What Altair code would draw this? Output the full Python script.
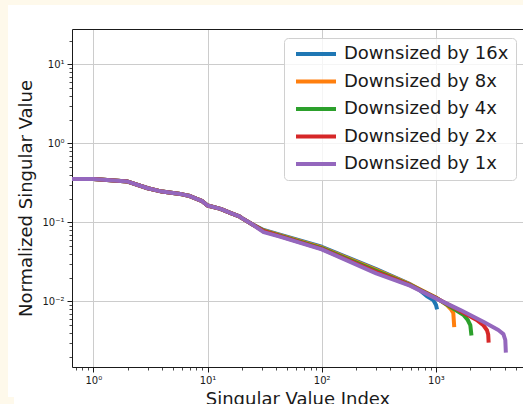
import altair as alt
import pandas as pd

# ---------------- data ----------------
series_names = ["Downsized by 16x", "Downsized by 8x", "Downsized by 4x",
                "Downsized by 2x", "Downsized by 1x"]
series_colors = ["#1f77b4", "#ff7f0e", "#2ca02c", "#d62728", "#9467bd"]

idx_16x = [0.5, 1, 2, 3, 4, 6, 7, 9, 10, 13, 16, 19, 20, 25, 31, 43, 100, 300, 593, 700, 830, 948, 1002, 1023]
val_16x = [0.353, 0.353, 0.328, 0.27, 0.245, 0.226, 0.215, 0.185, 0.163, 0.148, 0.131, 0.119, 0.113, 0.093,
           0.080, 0.070, 0.049, 0.0255, 0.0165, 0.0143, 0.0117, 0.0104, 0.0090, 0.0079]

idx_8x = [0.5, 1, 2, 3, 4, 6, 7, 9, 10, 13, 16, 19, 20, 25, 31, 43, 100, 300, 593, 1000, 1243, 1350, 1420, 1447]
val_8x = [0.353, 0.353, 0.328, 0.27, 0.245, 0.226, 0.215, 0.185, 0.163, 0.148, 0.131, 0.119, 0.113, 0.093,
          0.079, 0.069, 0.048, 0.0250, 0.0164, 0.0112, 0.0090, 0.0080, 0.0071, 0.0047]

idx_4x = [0.5, 1, 2, 3, 4, 6, 7, 9, 10, 13, 16, 19, 20, 25, 31, 43, 100, 300, 593, 1000, 1738, 1900, 2000, 2047]
val_4x = [0.353, 0.353, 0.328, 0.27, 0.245, 0.226, 0.215, 0.185, 0.163, 0.148, 0.131, 0.119, 0.113, 0.093,
          0.078, 0.068, 0.047, 0.0243, 0.0162, 0.0111, 0.00675, 0.0058, 0.0050, 0.0037]

idx_2x = [0.5, 1, 2, 3, 4, 6, 7, 9, 10, 13, 16, 19, 20, 25, 31, 43, 100, 300, 593, 1000, 1622, 2276, 2600, 2800, 2870, 2895]
val_2x = [0.353, 0.353, 0.328, 0.27, 0.245, 0.226, 0.215, 0.185, 0.163, 0.148, 0.131, 0.119, 0.113, 0.093,
          0.077, 0.067, 0.046, 0.0234, 0.0160, 0.0110, 0.0076, 0.0058, 0.0050, 0.0043, 0.0038, 0.0030]

idx_1x = [0.5, 1, 2, 3, 4, 6, 7, 9, 10, 13, 16, 19, 20, 25, 31, 43, 100, 300, 593, 1000, 1622, 2600, 3518, 3900, 4050, 4095]
val_1x = [0.353, 0.353, 0.328, 0.27, 0.245, 0.226, 0.215, 0.185, 0.163, 0.148, 0.131, 0.119, 0.113, 0.093,
          0.075, 0.066, 0.0455, 0.0226, 0.0158, 0.0109, 0.0078, 0.0055, 0.00433, 0.00385, 0.00324, 0.00224]

x_major = [1, 10, 100, 1000]
x_major_labels = ["10⁰", "10¹", "10²", "10³"]
y_major = [0.01, 0.1, 1, 10]
y_major_labels = ["10⁻²", "10⁻¹", "10⁰", "10¹"]

# ---------------- table ----------------
rows = []
for name, xs_, ys_ in zip(series_names,
                          [idx_16x, idx_8x, idx_4x, idx_2x, idx_1x],
                          [val_16x, val_8x, val_4x, val_2x, val_1x]):
    for a, b in zip(xs_, ys_):
        rows.append({"idx": a, "val": b, "series": name})
df = pd.DataFrame(rows)

X_DOMAIN = [0.651, 5787]
Y_DOMAIN = [0.001474, 28.0]
W, H = 451, 338
FONT = "DejaVu Sans"
INK = "#1a1a1a"
CREAM = "#fef9eb"

xs = alt.Scale(type="log", domain=X_DOMAIN, nice=False, zero=False)
ys = alt.Scale(type="log", domain=Y_DOMAIN, nice=False, zero=False)


def label_expr(values, labels):
    expr = "''"
    for v, l in zip(reversed(values), reversed(labels)):
        expr = f"abs(datum.value - {v}) < {v}*1e-6 ? '{l}' : ({expr})"
    return expr


x_minor = [m * 10 ** k for k in range(-1, 4) for m in range(2, 10)
           if X_DOMAIN[0] <= m * 10 ** k <= X_DOMAIN[1]]
y_minor = [m * 10.0 ** k for k in range(-3, 2) for m in range(2, 10)
           if Y_DOMAIN[0] <= m * 10.0 ** k <= Y_DOMAIN[1]]

axis_common = dict(labelFont=FONT, labelColor=INK, titleFont=FONT, titleColor=INK,
                   titleFontWeight="normal", titleFontSize=18, labelFontSize=10,
                   domainColor=INK, tickColor=INK, tickWidth=1, domainWidth=1,
                   gridColor="#cccccc", gridWidth=1)

x_axis_major = alt.Axis(orient="bottom", values=x_major, labelExpr=label_expr(x_major, x_major_labels),
                        title="Singular Value Index", grid=True, tickSize=5, labelPadding=3,
                        titlePadding=5, labelFlush=False, labelOverlap=False, **axis_common)
y_axis_major = alt.Axis(orient="left", values=y_major, labelExpr=label_expr(y_major, y_major_labels),
                        title="Normalized Singular Value", grid=True, tickSize=5, labelPadding=3,
                        titlePadding=6, labelFlush=False, labelOverlap=False, **axis_common)

x_axis_minor = alt.Axis(orient="bottom", values=x_minor, labels=False, title=None, grid=False,
                        domain=False, tickSize=3, tickColor=INK, tickWidth=0.8)
y_axis_minor = alt.Axis(orient="left", values=y_minor, labels=False, title=None, grid=False,
                        domain=False, tickSize=3, tickColor=INK, tickWidth=0.8)
x_axis_top = alt.Axis(orient="top", values=[1], labels=False, ticks=False, title=None, grid=False,
                      domain=True, domainColor=INK, domainWidth=1)

# wide, thin legend handle drawn from a small symbol so rows stay compact
legend = alt.Legend(orient="none", legendX=212, legendY=9, title=None, direction="vertical",
                    symbolType="M-1,0L9,0", symbolSize=64, symbolStrokeWidth=4,
                    symbolFillColor="transparent",
                    labelFont=FONT, labelFontSize=18, labelColor=INK, labelOffset=35,
                    rowPadding=9.5, padding=7, strokeColor="#d0d0d0",
                    fillColor="rgba(255,255,255,0.8)", cornerRadius=4, labelLimit=400)

one = alt.Data(values=[{"a": 1}])
cream_left = alt.Chart(one).mark_rect(color=CREAM).encode(
    x=alt.value(-72), x2=alt.value(-64), y=alt.value(-29), y2=alt.value(H + 37))
cream_top = alt.Chart(one).mark_rect(color=CREAM).encode(
    x=alt.value(-72), x2=alt.value(W), y=alt.value(-29), y2=alt.value(-24))
cream_corner = alt.Chart(one).mark_rect(color=CREAM).encode(
    x=alt.value(-72), x2=alt.value(-58), y=alt.value(H + 30), y2=alt.value(H + 37))

lines = alt.Chart(df).mark_line(strokeWidth=4, clip=True, strokeJoin="round").encode(
    x=alt.X("idx:Q", scale=xs, axis=x_axis_major),
    y=alt.Y("val:Q", scale=ys, axis=y_axis_major),
    color=alt.Color("series:N", scale=alt.Scale(domain=series_names, range=series_colors),
                    sort=series_names, legend=legend),
)

minor = alt.Chart(df).mark_line(opacity=0, clip=True).encode(
    x=alt.X("idx:Q", scale=xs, axis=x_axis_minor),
    y=alt.Y("val:Q", scale=ys, axis=y_axis_minor),
    detail="series:N",
)

top = alt.Chart(df).mark_line(opacity=0, clip=True).encode(
    x=alt.X("idx:Q", scale=xs, axis=x_axis_top),
    y=alt.Y("val:Q", scale=ys, axis=None),
    detail="series:N",
)

chart = alt.layer(cream_left, cream_top, cream_corner, minor, top, lines).resolve_axis(
    x="independent", y="independent"
).properties(
    width=W, height=H,
    autosize=alt.AutoSizeParams(type="none"),
    padding={"left": 72, "top": 29, "right": 0, "bottom": 37},
    background="white",
).configure_view(stroke=None, fill="white")

chart.save("out.html", embed_options={"renderer": "svg", "actions": False})
